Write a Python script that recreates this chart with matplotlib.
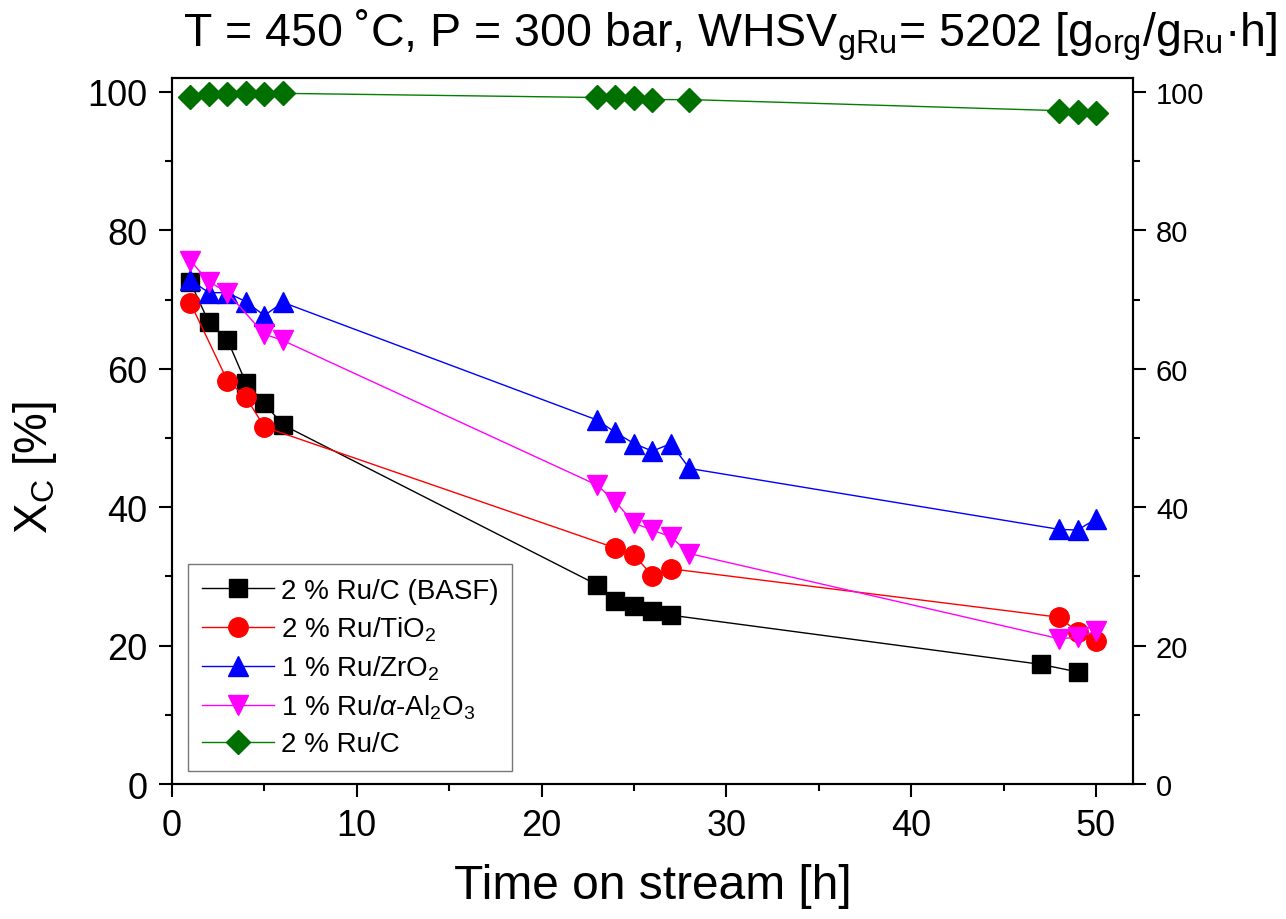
import numpy as np
import matplotlib.pyplot as plt
from matplotlib.ticker import MultipleLocator

plt.rcParams['font.family'] = ['Liberation Sans', 'DejaVu Sans']
plt.rcParams['mathtext.fontset'] = 'custom'
plt.rcParams['mathtext.rm'] = 'Liberation Sans'
plt.rcParams['mathtext.it'] = 'Liberation Sans:italic'
plt.rcParams['mathtext.default'] = 'regular'

# Data (time on stream [h], conversion X_C [%])
t_basf = [1, 2, 3, 4, 5, 6, 23, 24, 25, 26, 27, 47, 49]
x_basf = [72.5, 66.7, 64.2, 58.0, 55.0, 51.9, 28.8, 26.4, 25.7, 25.0, 24.4, 17.3, 16.2]

t_tio2 = [1, 3, 4, 5, 24, 25, 26, 27, 48, 49, 50]
x_tio2 = [69.5, 58.3, 55.9, 51.6, 34.1, 33.1, 30.1, 31.1, 24.1, 22.0, 20.6]

t_zro2 = [1, 2, 3, 4, 5, 6, 23, 24, 25, 26, 27, 28, 48, 49, 50]
x_zro2 = [72.8, 71.0, 71.0, 69.7, 67.7, 69.6, 52.6, 50.8, 49.2, 48.1, 49.2, 45.6, 36.8, 36.7, 38.3]

t_al2o3 = [1, 2, 3, 5, 6, 23, 24, 25, 26, 27, 28, 48, 49, 50]
x_al2o3 = [75.6, 72.6, 71.0, 65.0, 64.1, 43.2, 40.8, 37.7, 36.7, 35.7, 33.3, 21.0, 21.2, 22.1]

t_ruc = [1, 2, 3, 4, 5, 6, 23, 24, 25, 26, 28, 48, 49, 50]
x_ruc = [99.3, 99.7, 99.7, 99.8, 99.7, 99.8, 99.2, 99.2, 99.1, 98.9, 98.9, 97.3, 97.1, 97.0]

labels = ['2 % Ru/C (BASF)', '2 % Ru/TiO$_2$', '1 % Ru/ZrO$_2$',
          '1 % Ru/$\\mathit{\\alpha}$-Al$_2$O$_3$', '2 % Ru/C']

fig = plt.figure(figsize=(12.86, 9.2), dpi=100)
ax = fig.add_axes([0.1337, 0.1467, 0.7473, 0.7673])

ax.plot(t_basf, x_basf, color='black', marker='s', ms=13, lw=1.0, label=labels[0])
ax.plot(t_tio2, x_tio2, color='red', marker='o', ms=14, lw=1.0, label=labels[1])
ax.plot(t_zro2, x_zro2, color='blue', marker='^', ms=15, lw=1.0, label=labels[2])
ax.plot(t_al2o3, x_al2o3, color='magenta', marker='v', ms=15, lw=1.0, label=labels[3])
ax.plot(t_ruc, x_ruc, color='green', mfc='#007000', mec='#007000', marker='D', ms=12,
        lw=1.0, label=labels[4])

ax.set_xlim(0, 52)
ax.set_ylim(0, 102)
ax.xaxis.set_major_locator(MultipleLocator(10))
ax.xaxis.set_minor_locator(MultipleLocator(5))
ax.yaxis.set_major_locator(MultipleLocator(20))
ax.yaxis.set_minor_locator(MultipleLocator(10))
ax.tick_params(which='both', direction='out', width=1.5, top=False, right=False)
ax.tick_params(which='major', length=9.5, labelsize=26, pad=8)
ax.tick_params(which='minor', length=5)
for s in ax.spines.values():
    s.set_linewidth(1.5)

ax2 = ax.twinx()
ax2.set_ylim(ax.get_ylim())
ax2.yaxis.set_major_locator(MultipleLocator(20))
ax2.yaxis.set_minor_locator(MultipleLocator(10))
ax2.tick_params(which='both', direction='out', width=1.5)
ax2.tick_params(which='major', length=9.5, labelsize=21, pad=7)
ax2.tick_params(which='minor', length=5)
for s in ax2.spines.values():
    s.set_linewidth(1.5)

ax.set_xlabel('Time on stream [h]', fontsize=34.5, labelpad=14)
ax.set_ylabel('X$_\\mathrm{C}$ [%]', fontsize=33)
ax.yaxis.set_label_coords(-0.118, 0.45)

leg = ax.legend(loc='lower left', bbox_to_anchor=(0.0166, 0.018), borderaxespad=0,
                fontsize=20, frameon=True, fancybox=False, edgecolor='#555555',
                handlelength=2.6, handletextpad=0.25, labelspacing=0.38, borderpad=0.5)
leg.get_frame().set_linewidth(1.0)

fig.text(0.568, 0.962,
         'T = 450 \u02daC, P = 300 bar, WHSV$_{gRu}$= 5202 [g$_{org}$/g$_{Ru}$\u00b7h]',
         ha='center', va='center', fontsize=33.5)

fig.savefig('out.png', dpi=100)
